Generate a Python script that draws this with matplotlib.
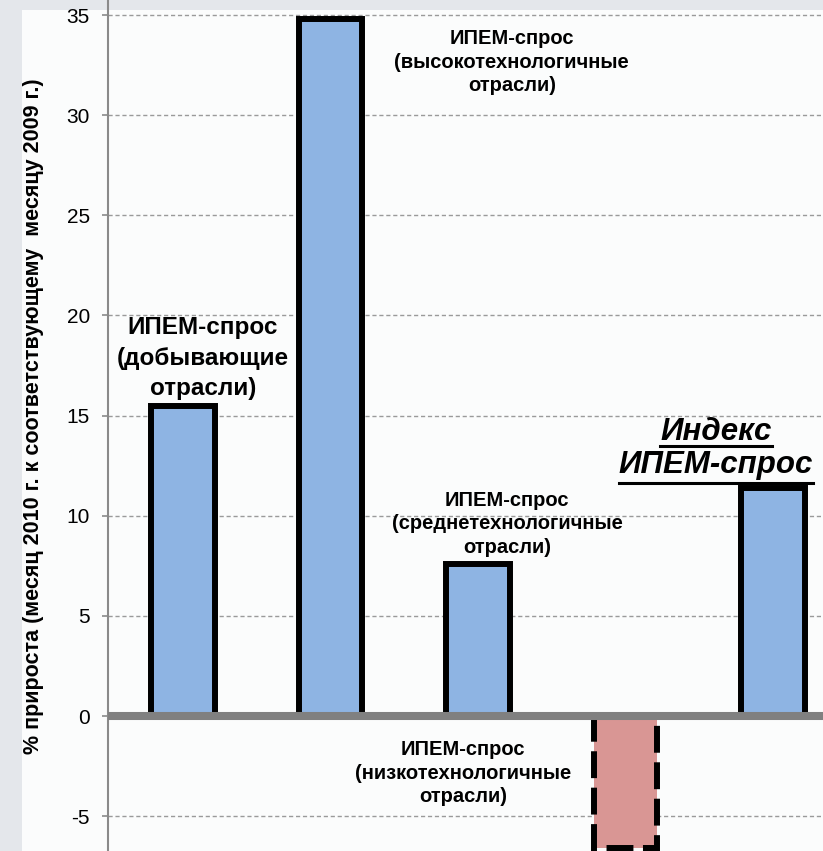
import matplotlib
matplotlib.use("Agg")
import matplotlib.pyplot as plt
from matplotlib.lines import Line2D
from matplotlib.patches import Rectangle
from matplotlib.transforms import IdentityTransform

# values
sectors = ["добывающие", "высокотехнологичные", "среднетехнологичные", "низкотехнологичные", "Индекс"]
growth = [15.5, 34.8, 7.6, -6.6, 11.4]
bar_colors = ["#8eb4e3", "#8eb4e3", "#8eb4e3", "#d99694", "#8eb4e3"]
yticks = [-5, 0, 5, 10, 15, 20, 25, 30, 35]

font = ["Liberation Sans", "DejaVu Sans"]

fig = plt.figure(figsize=(8.23, 8.51), dpi=100)
fig.patch.set_facecolor("#e4e7eb")
# white panel behind the chart
fig.add_artist(Rectangle((22 / 823, 0), 1, 1 - 10 / 851, transform=fig.transFigure,
                         facecolor="#fbfcfc", edgecolor="none", zorder=0))

ax = fig.add_axes([108 / 823, 0, 1 - 108 / 823, 1])
ax.set_facecolor("none")
x = list(range(len(growth)))
for i, v in enumerate(growth):
    ls = "solid" if v >= 0 else (0, (4.5, 1.6))
    ax.bar(x[i], v, width=0.43, color=bar_colors[i], edgecolor="black",
           linewidth=4.3, linestyle=ls, zorder=2)

ax.axhline(0, color="#808080", linewidth=5.8, zorder=3)
ax.set_xlim(-0.508, 4.34)
ax.set_ylim(-6.74, 35.75)
ax.set_yticks(yticks)
ax.set_yticklabels([str(t) for t in yticks], family=font, fontsize=15)
ax.set_xticks([])
ax.grid(axis="y", color="#9a9a9a", linestyle=(0, (3, 2)), linewidth=1.0, zorder=1)
for s in ["top", "right", "bottom"]:
    ax.spines[s].set_visible(False)
ax.spines["left"].set_color("#8a8a8a")
ax.spines["left"].set_linewidth(1.5)
ax.tick_params(axis="y", length=4, color="#8a8a8a", width=1.2, pad=9)

fig.text(34 / 823, 1 - 416 / 851,
         "% прироста (месяц 2010 г. к соответствующему  месяцу 2009 г.)",
         rotation=90, ha="center", va="center", fontsize=15.5,
         fontweight="bold", family=font)

ax.text(0.136, 17.87, "ИПЕМ-спрос\n(добывающие\nотрасли)", ha="center", va="center",
        fontsize=17.5, fontweight="bold", family=font, linespacing=1.42, zorder=4)
ax.text(2.23, 32.65, "ИПЕМ-спрос\n(высокотехнологичные\nотрасли)", ha="center", va="center",
        fontsize=14.5, fontweight="bold", family=font, linespacing=1.3, zorder=4)
ax.text(2.197, 9.59, "ИПЕМ-спрос\n(среднетехнологичные\nотрасли)", ha="center", va="center",
        fontsize=14.5, fontweight="bold", family=font, linespacing=1.3, zorder=4)
ax.text(1.90, -2.85, "ИПЕМ-спрос\n(низкотехнологичные\nотрасли)", ha="center", va="center",
        fontsize=14.5, fontweight="bold", family=font, linespacing=1.3, zorder=4)

t1 = ax.text(3.614, 13.78, "Индекс", ha="center", va="baseline", fontsize=22.5,
             fontweight="bold", fontstyle="italic", family=font, zorder=4)
t2 = ax.text(3.614, 12.13, "ИПЕМ-спрос", ha="center", va="baseline", fontsize=22.5,
             fontweight="bold", fontstyle="italic", family=font, zorder=4)

# underline the index label
fig.canvas.draw()
renderer = fig.canvas.get_renderer()
for t, off in ((t1, 6), (t2, 10)):
    bb = t.get_window_extent(renderer)
    base = ax.transData.transform((0, t.get_position()[1]))[1]
    fig.add_artist(Line2D([bb.x0, bb.x1], [base - off, base - off],
                          transform=IdentityTransform(), color="black",
                          linewidth=2.2, zorder=5))

fig.savefig("out.png", dpi=100, facecolor=fig.get_facecolor())
